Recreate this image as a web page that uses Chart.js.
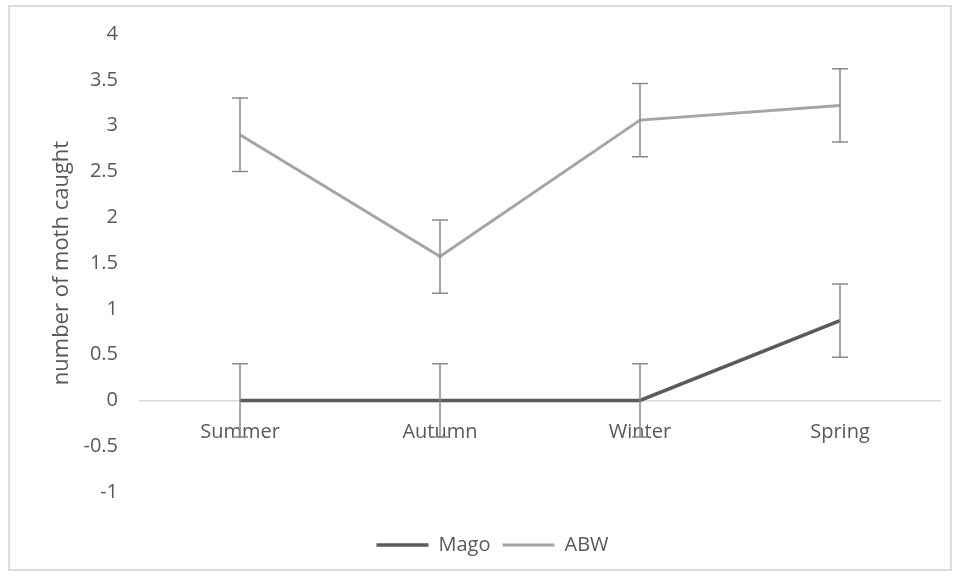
<!DOCTYPE html>
<html>
<head>
<meta charset="utf-8">
<script src="https://cdn.jsdelivr.net/npm/chart.js@4"></script>
<style>
    body { margin: 0; background: #ffffff; }
    #wrap { position: relative; width: 956px; height: 577px; }
    #frame {
        position: absolute; left: 8px; top: 5px; width: 940px; height: 562px;
        border: 2px solid #dcdcdc; pointer-events: none;
    }
</style>
</head>
<body>
<div id="wrap">
    <canvas id="moth-chart" width="956" height="577"></canvas>
    <div id="frame"></div>
</div>
<script>
// data
const seasons = ['Summer', 'Autumn', 'Winter', 'Spring'];
const magoValues = [0, 0, 0, 0.87];
const magoErrors = [0.4, 0.4, 0.4, 0.4];
const abwValues = [2.9, 1.57, 3.06, 3.22];
const abwErrors = [0.4, 0.4, 0.4, 0.4];
const yTicks = [4, 3.5, 3, 2.5, 2, 1.5, 1, 0.5, 0, -0.5, -1];

const textColor = '#595959';
const fontFamily = '"Open Sans", "DejaVu Sans", sans-serif';

// error bars drawn through the y scale
const errorBarPlugin = {
    id: 'errorBars',
    afterDatasetsDraw: function(chart) {
        const ctx = chart.ctx;
        const yScale = chart.scales.y;
        chart.data.datasets.forEach(function(ds, i) {
            const meta = chart.getDatasetMeta(i);
            ctx.save();
            ctx.strokeStyle = '#8a8a8a';
            ctx.lineWidth = 1.5;
            meta.data.forEach(function(pt, j) {
                const v = ds.data[j];
                const e = ds.errors[j];
                const top = yScale.getPixelForValue(v + e);
                const bot = yScale.getPixelForValue(v - e);
                ctx.beginPath();
                ctx.moveTo(pt.x, top);
                ctx.lineTo(pt.x, bot);
                ctx.moveTo(pt.x - 8, top);
                ctx.lineTo(pt.x + 8, top);
                ctx.moveTo(pt.x - 8, bot);
                ctx.lineTo(pt.x + 8, bot);
                ctx.stroke();
            });
            ctx.restore();
        });
    }
};

const ctx = document.getElementById('moth-chart').getContext('2d');
const chart = new Chart(ctx, {
    type: 'line',
    data: {
        labels: seasons,
        datasets: [
            {
                label: 'Mago',
                data: magoValues,
                errors: magoErrors,
                borderColor: '#5a5a5a',
                backgroundColor: '#5a5a5a',
                borderWidth: 3.5,
                pointRadius: 0,
                tension: 0
            },
            {
                label: 'ABW',
                data: abwValues,
                errors: abwErrors,
                borderColor: '#a5a5a5',
                backgroundColor: '#a5a5a5',
                borderWidth: 3,
                pointRadius: 0,
                tension: 0
            }
        ]
    },
    options: {
        responsive: false,
        animation: false,
        layout: { padding: { top: 33, left: 45, right: 16, bottom: 12 } },
        scales: {
            x: {
                type: 'category',
                position: { y: 0 },
                offset: true,
                grid: { display: false, drawTicks: false },
                border: { display: true, color: '#d9d9d9', width: 1.5 },
                ticks: {
                    color: textColor,
                    padding: 20,
                    font: { family: fontFamily, size: 20 }
                }
            },
            y: {
                min: -1,
                max: 4,
                grid: { display: false, drawTicks: false },
                border: { display: false },
                afterFit: function(scale) { scale.width = 95; },
                afterBuildTicks: function(scale) {
                    scale.ticks = yTicks.map(function(v) { return { value: v }; });
                },
                ticks: {
                    color: textColor,
                    padding: 22,
                    font: { family: fontFamily, size: 20 },
                    callback: function(value) { return String(value); }
                },
                title: {
                    display: true,
                    text: 'number of moth caught',
                    color: textColor,
                    padding: { top: 4 },
                    font: { family: fontFamily, size: 22 }
                }
            }
        },
        plugins: {
            legend: {
                position: 'bottom',
                title: {
                    display: true,
                    text: '',
                    padding: { top: 19, bottom: 0 },
                    font: { size: 10 }
                },
                labels: {
                    color: textColor,
                    usePointStyle: true,
                    pointStyle: 'line',
                    pointStyleWidth: 52,
                    padding: 12,
                    font: { family: fontFamily, size: 20 }
                }
            },
            tooltip: { enabled: false }
        }
    },
    plugins: [errorBarPlugin]
});
</script>
</body>
</html>
